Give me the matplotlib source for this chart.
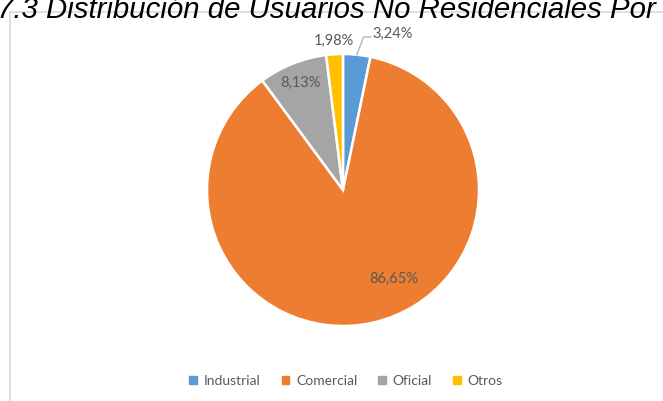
import matplotlib
matplotlib.use("Agg")
import matplotlib.pyplot as plt
from matplotlib.patches import Rectangle
import numpy as np

# Distribución de usuarios no residenciales por tipo
categories = ["Industrial", "Comercial", "Oficial", "Otros"]
shares = [3.24, 86.65, 8.13, 1.98]
colors = ["#5B9BD5", "#ED7D31", "#A5A5A5", "#FFC000"]
title = "7.3 Distribución de Usuarios No Residenciales Por"

# label placement in pie units (radius multiples)
label_radius = [1.19, 0.75, 0.85, 1.10]
label_angle_shift = [-10.0, 17.2, 0.0, 0.0]  # degrees, relative to wedge middle

W, H = 663, 401
fig = plt.figure(figsize=(W / 100, H / 100), dpi=100)
fig.patch.set_facecolor("white")

# chart frame (left and top edges visible)
fig.add_artist(Rectangle((10 / W, -0.2), 1.2, (H - 12) / H + 0.2,
                         transform=fig.transFigure, fill=False,
                         edgecolor="#D9D9D9", linewidth=1.2))

# title, partly above the visible area
fig.text(-3 / W, 1 - 18 / H, title, fontsize=21.2, style="italic",
         family="Liberation Sans", color="black", ha="left", va="baseline")

cx, cy, r = 343, H - 190, 136
ax = fig.add_axes([(cx - r) / W, (cy - r) / H, 2 * r / W, 2 * r / H])
wedges, _ = ax.pie(shares, colors=colors, startangle=90, counterclock=False,
                   radius=1.0,
                   wedgeprops=dict(edgecolor="white", linewidth=1.8))
ax.set_xlim(-1, 1)
ax.set_ylim(-1, 1)
ax.set_aspect("equal")
ax.axis("off")

lab_font = dict(family="Lato", fontsize=10.5, color="#595959")
for i, (w, v) in enumerate(zip(wedges, shares)):
    mid = 0.5 * (w.theta1 + w.theta2)
    ang = np.deg2rad(mid + label_angle_shift[i])
    lx, ly = label_radius[i] * np.cos(ang), label_radius[i] * np.sin(ang)
    txt = f"{v:.2f}%".replace(".", ",")
    if i == 0:
        # leader line from wedge edge to the label
        ex, ey = np.cos(np.deg2rad(mid)), np.sin(np.deg2rad(mid))
        ax.plot([ex, ex + 0.05, lx - 0.12], [ey, ly - 0.02, ly - 0.02],
                color="#A6A6A6", linewidth=0.8, clip_on=False)
        ax.text(lx - 0.11, ly, txt, ha="left", va="center", **lab_font)
    else:
        ax.text(lx, ly, txt, ha="center", va="center", **lab_font)

handles = [plt.Rectangle((0, 0), 1, 1, color=c) for c in colors]
fig.legend(handles, categories, loc="center", bbox_to_anchor=(346 / W, 1 - 381 / H),
           ncol=4, frameon=False, handlelength=0.55, handleheight=0.55,
           handletextpad=0.5, columnspacing=1.5,
           prop=dict(family="Lato", size=10), labelcolor="#595959")

fig.savefig("out.png", dpi=100)
